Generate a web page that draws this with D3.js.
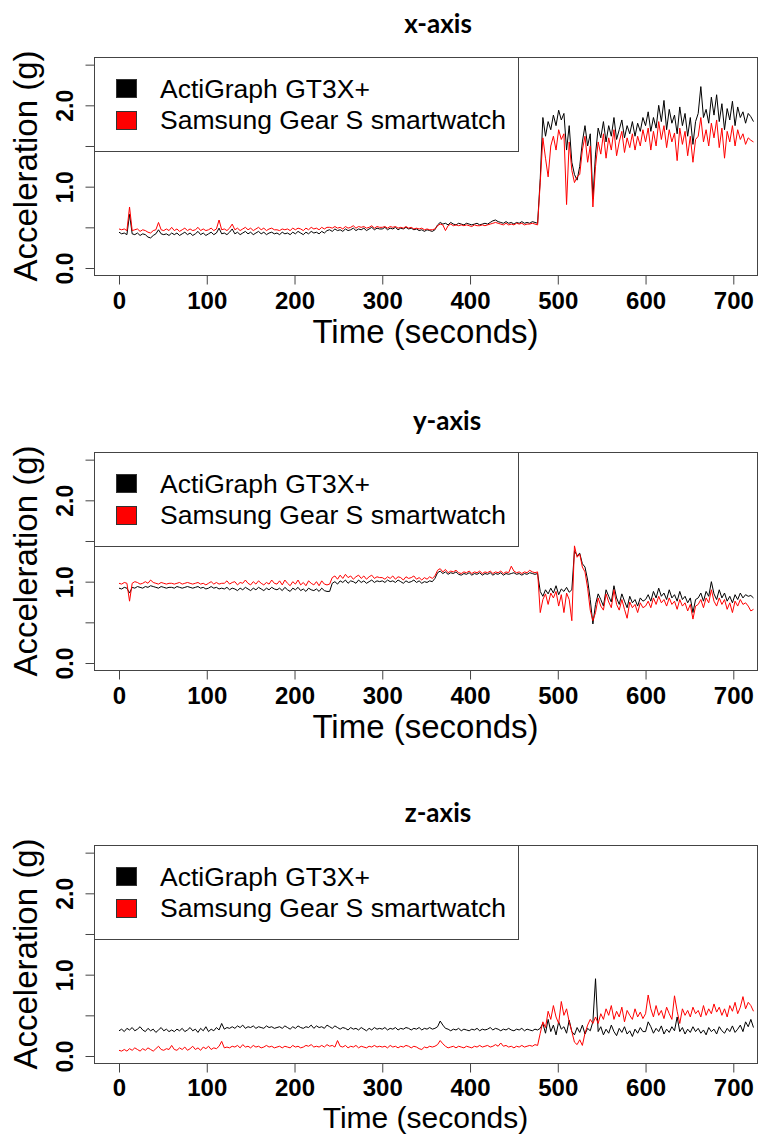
<!DOCTYPE html>
<html>
<head>
<meta charset="utf-8">
<script src="https://cdn.jsdelivr.net/npm/d3@7"></script>
<style>
  body { margin: 0; background: #fff; }
  svg { display: block; }
</style>
</head>
<body>
<div id="chart"></div>
<script>
// DATA
// sample times (seconds), one reading every 3 s
var times = d3.range(0, 724, 3);

var panelTitles = ["x-axis", "y-axis", "z-axis"];
var seriesNames = ["ActiGraph GT3X+", "Samsung Gear S smartwatch"];
var seriesColors = ["#000000", "#ff0000"];
var xTicks = [0, 100, 200, 300, 400, 500, 600, 700];
var yTicks = [0, 0.5, 1, 1.5, 2, 2.5];
var yTickLabels = {0: "0.0", 1: "1.0", 2: "2.0"};

// x-axis acceleration
var xActi = [
  0.44,0.42,0.43,0.41,0.66,0.42,0.41,0.43,0.40,0.42,0.41,0.38,0.37,0.40,0.42,0.47,0.42,0.41,0.42,0.40,
  0.43,0.41,0.43,0.40,0.42,0.44,0.41,0.43,0.40,0.42,0.45,0.41,0.43,0.40,0.42,0.44,0.41,0.43,0.49,0.42,
  0.43,0.41,0.44,0.48,0.42,0.44,0.41,0.43,0.45,0.42,0.44,0.41,0.43,0.45,0.42,0.44,0.41,0.43,0.44,0.42,
  0.43,0.41,0.44,0.42,0.43,0.41,0.44,0.42,0.45,0.43,0.41,0.44,0.42,0.45,0.43,0.44,0.42,0.45,0.43,0.46,
  0.47,0.45,0.48,0.46,0.47,0.45,0.48,0.46,0.47,0.49,0.46,0.48,0.47,0.49,0.46,0.48,0.50,0.47,0.49,0.48,
  0.48,0.50,0.47,0.49,0.48,0.50,0.47,0.49,0.48,0.50,0.48,0.49,0.47,0.48,0.46,0.47,0.45,0.47,0.46,0.45,
  0.47,0.53,0.56,0.54,0.55,0.53,0.56,0.54,0.53,0.55,0.54,0.53,0.55,0.54,0.53,0.54,0.55,0.53,0.54,0.55,
  0.54,0.56,0.58,0.59,0.57,0.56,0.55,0.57,0.55,0.56,0.54,0.56,0.55,0.57,0.55,0.56,0.55,0.57,0.56,0.55,
  1.10,1.85,1.62,1.80,1.70,1.88,1.75,1.94,1.82,1.90,1.45,1.75,1.30,1.15,1.08,1.25,1.55,1.75,1.50,1.65,
  0.85,1.40,1.72,1.60,1.80,1.55,1.75,1.62,1.85,1.58,1.70,1.82,1.60,1.75,1.65,1.80,1.62,1.78,1.68,1.85,
  1.75,1.92,1.68,1.85,1.72,2.00,1.80,2.06,1.70,1.95,1.78,1.88,1.65,1.98,1.75,1.90,1.62,1.85,1.52,1.80,
  1.90,2.23,1.85,1.95,1.78,2.10,1.88,2.13,1.80,2.02,1.70,1.96,1.82,2.05,1.75,1.98,1.85,1.92,1.78,1.90,
  1.86,1.80
];
var xGear = [
  0.48,0.47,0.48,0.46,0.75,0.46,0.47,0.48,0.45,0.47,0.46,0.44,0.43,0.46,0.47,0.56,0.47,0.46,0.48,0.46,
  0.50,0.46,0.48,0.45,0.47,0.49,0.46,0.48,0.46,0.47,0.50,0.46,0.48,0.46,0.47,0.49,0.46,0.48,0.59,0.47,
  0.48,0.46,0.49,0.54,0.47,0.49,0.46,0.48,0.50,0.47,0.49,0.46,0.48,0.50,0.47,0.49,0.46,0.48,0.49,0.47,
  0.47,0.46,0.48,0.47,0.48,0.46,0.49,0.47,0.49,0.48,0.46,0.49,0.47,0.50,0.48,0.49,0.47,0.50,0.48,0.50,
  0.50,0.49,0.51,0.49,0.50,0.48,0.51,0.49,0.50,0.52,0.49,0.51,0.50,0.51,0.49,0.50,0.52,0.49,0.51,0.50,
  0.50,0.51,0.49,0.51,0.50,0.51,0.49,0.50,0.49,0.51,0.49,0.50,0.48,0.49,0.48,0.49,0.47,0.48,0.47,0.47,
  0.48,0.52,0.54,0.53,0.46,0.52,0.54,0.52,0.53,0.52,0.53,0.52,0.53,0.52,0.51,0.53,0.52,0.52,0.53,0.52,
  0.53,0.54,0.55,0.56,0.55,0.54,0.53,0.55,0.53,0.54,0.53,0.55,0.54,0.55,0.53,0.54,0.54,0.55,0.54,0.53,
  1.05,1.60,1.35,1.12,1.50,1.62,1.45,1.70,1.58,1.65,0.78,1.55,1.20,1.05,1.12,1.15,1.45,1.62,1.30,1.50,
  0.75,1.25,1.55,1.40,1.65,1.35,1.60,1.45,1.70,1.38,1.55,1.68,1.42,1.60,1.48,1.65,1.45,1.62,1.50,1.70,
  1.55,1.72,1.45,1.68,1.50,1.80,1.58,1.75,1.48,1.70,1.55,1.66,1.32,1.72,1.52,1.68,1.38,1.62,1.30,1.58,
  1.62,1.85,1.55,1.70,1.50,1.78,1.60,1.82,1.48,1.72,1.35,1.68,1.55,1.75,1.50,1.70,1.58,1.65,1.52,1.60,
  1.57,1.55
];

// y-axis acceleration
var yActi = [
  0.92,0.91,0.93,0.92,0.86,0.93,0.92,0.94,0.93,0.92,0.94,0.93,0.95,0.94,0.93,0.92,0.94,0.93,0.92,0.93,
  0.93,0.92,0.94,0.93,0.92,0.93,0.94,0.93,0.92,0.93,0.94,0.92,0.93,0.91,0.92,0.94,0.92,0.93,0.91,0.92,
  0.91,0.93,0.90,0.92,0.91,0.89,0.92,0.90,0.93,0.91,0.89,0.92,0.90,0.93,0.91,0.89,0.92,0.90,0.93,0.91,
  0.90,0.92,0.89,0.93,0.90,0.88,0.92,0.90,0.93,0.89,0.91,0.88,0.92,0.90,0.89,0.91,0.88,0.92,0.89,0.88,
  0.88,0.98,1.00,0.97,1.01,0.99,1.02,0.98,1.01,1.00,0.98,1.02,0.99,1.01,0.98,1.00,1.02,0.99,1.01,1.00,
  1.01,0.99,1.02,1.00,1.01,0.99,1.02,1.00,0.98,1.01,0.99,1.00,1.02,0.99,1.01,0.98,1.00,0.99,1.01,1.00,
  1.04,1.11,1.13,1.10,1.12,1.09,1.11,1.10,1.12,1.09,1.08,1.10,1.09,1.11,1.08,1.10,1.09,1.11,1.08,1.10,
  1.09,1.11,1.08,1.10,1.09,1.11,1.08,1.10,1.09,1.10,1.11,1.09,1.10,1.08,1.10,1.09,1.11,1.10,1.09,1.10,
  0.88,0.82,0.90,0.85,0.92,0.86,0.95,0.84,0.91,0.88,0.93,0.87,0.90,1.38,1.32,1.35,1.22,1.18,1.02,0.78,
  0.48,0.72,0.85,0.78,0.70,0.90,0.82,0.75,0.95,0.80,0.72,0.85,0.76,0.68,0.82,0.74,0.78,0.70,0.80,0.76,
  0.78,0.84,0.76,0.88,0.80,0.92,0.82,0.86,0.78,0.90,0.80,0.84,0.76,0.88,0.78,0.82,0.74,0.80,0.62,0.78,
  0.80,0.86,0.76,0.88,0.82,1.00,0.85,0.78,0.90,0.80,0.86,0.76,0.82,0.74,0.84,0.78,0.86,0.80,0.84,0.82,
  0.83,0.80
];
var yGear = [
  0.98,0.97,0.99,0.98,0.76,0.98,1.00,0.99,0.97,0.98,1.00,0.98,1.02,0.99,0.98,0.97,0.99,0.98,0.97,0.98,
  0.98,0.97,0.98,0.99,0.97,0.98,0.99,0.98,0.97,0.98,0.99,0.97,0.98,0.96,0.98,1.00,0.97,0.99,0.97,0.98,
  0.98,1.01,0.97,0.99,1.00,0.96,0.99,0.98,1.02,0.98,0.96,1.00,0.97,1.01,0.98,0.96,0.99,0.97,1.02,0.98,
  0.97,1.01,0.96,1.02,0.98,0.95,1.00,0.97,1.02,0.96,0.99,0.95,1.01,0.98,0.96,1.00,0.95,1.01,0.97,0.96,
  0.97,1.05,1.07,1.03,1.08,1.04,1.09,1.05,1.07,1.03,1.06,1.08,1.04,1.07,1.03,1.06,1.08,1.04,1.06,1.05,
  1.05,1.03,1.06,1.04,1.07,1.03,1.06,1.05,1.02,1.06,1.04,1.05,1.07,1.03,1.05,1.02,1.05,1.03,1.06,1.04,
  1.07,1.14,1.16,1.12,1.15,1.11,1.13,1.12,1.14,1.11,1.10,1.12,1.11,1.13,1.10,1.12,1.11,1.13,1.10,1.12,
  1.11,1.13,1.10,1.12,1.11,1.13,1.10,1.12,1.11,1.19,1.13,1.11,1.12,1.10,1.12,1.11,1.14,1.12,1.11,1.12,
  0.62,0.78,0.85,0.72,0.86,0.80,0.88,0.70,0.84,0.62,0.86,0.78,0.52,1.44,1.30,1.34,1.18,1.12,0.92,0.65,
  0.52,0.62,0.80,0.70,0.65,0.85,0.75,0.68,0.90,0.72,0.65,0.78,0.66,0.55,0.75,0.68,0.72,0.62,0.74,0.68,
  0.70,0.76,0.68,0.80,0.72,0.82,0.74,0.78,0.70,0.80,0.72,0.76,0.66,0.78,0.70,0.74,0.64,0.72,0.54,0.70,
  0.72,0.78,0.68,0.80,0.74,0.90,0.76,0.70,0.80,0.72,0.78,0.66,0.74,0.62,0.76,0.70,0.78,0.72,0.74,0.70,
  0.64,0.66
];

// z-axis acceleration
var zActi = [
  0.31,0.33,0.30,0.34,0.32,0.35,0.31,0.33,0.36,0.32,0.30,0.34,0.31,0.33,0.29,0.32,0.35,0.31,0.33,0.30,
  0.32,0.30,0.33,0.31,0.34,0.30,0.32,0.35,0.31,0.33,0.29,0.34,0.31,0.36,0.30,0.33,0.31,0.35,0.32,0.40,
  0.33,0.35,0.34,0.36,0.34,0.37,0.35,0.38,0.34,0.36,0.35,0.37,0.34,0.36,0.35,0.34,0.37,0.35,0.36,0.34,
  0.35,0.36,0.34,0.37,0.35,0.33,0.36,0.34,0.37,0.35,0.34,0.36,0.35,0.38,0.34,0.37,0.35,0.36,0.34,0.38,
  0.36,0.34,0.37,0.35,0.33,0.35,0.34,0.32,0.35,0.33,0.34,0.32,0.35,0.33,0.31,0.34,0.32,0.35,0.33,0.34,
  0.33,0.35,0.32,0.34,0.33,0.35,0.32,0.34,0.33,0.35,0.34,0.32,0.34,0.33,0.35,0.32,0.34,0.33,0.35,0.33,
  0.34,0.36,0.43,0.38,0.34,0.33,0.31,0.33,0.32,0.34,0.31,0.33,0.32,0.31,0.33,0.32,0.34,0.31,0.33,0.32,
  0.33,0.35,0.32,0.34,0.33,0.31,0.33,0.32,0.34,0.32,0.31,0.33,0.32,0.34,0.31,0.33,0.32,0.31,0.33,0.32,
  0.34,0.40,0.28,0.45,0.30,0.38,0.26,0.42,0.33,0.36,0.28,0.44,0.30,0.26,0.35,0.29,0.38,0.27,0.34,0.31,
  0.42,0.95,0.30,0.36,0.26,0.33,0.28,0.38,0.30,0.25,0.34,0.29,0.36,0.27,0.31,0.24,0.33,0.28,0.35,0.30,
  0.30,0.42,0.36,0.28,0.34,0.30,0.37,0.27,0.33,0.29,0.36,0.31,0.48,0.30,0.35,0.27,0.33,0.29,0.36,0.30,
  0.34,0.28,0.32,0.26,0.35,0.30,0.33,0.27,0.36,0.31,0.28,0.34,0.30,0.37,0.29,0.33,0.38,0.30,0.42,0.36,
  0.45,0.35
];
var zGear = [
  0.07,0.06,0.08,0.06,0.09,0.07,0.10,0.08,0.06,0.09,0.07,0.10,0.08,0.06,0.09,0.12,0.08,0.07,0.09,0.08,
  0.13,0.08,0.07,0.10,0.08,0.11,0.07,0.09,0.12,0.08,0.10,0.07,0.11,0.09,0.12,0.08,0.10,0.09,0.12,0.18,
  0.10,0.11,0.10,0.12,0.11,0.13,0.10,0.14,0.11,0.12,0.10,0.13,0.11,0.12,0.10,0.11,0.13,0.11,0.12,0.10,
  0.11,0.12,0.10,0.12,0.11,0.10,0.13,0.11,0.12,0.10,0.11,0.13,0.12,0.14,0.11,0.12,0.11,0.13,0.11,0.14,
  0.12,0.13,0.11,0.19,0.12,0.11,0.13,0.10,0.12,0.11,0.13,0.10,0.12,0.11,0.10,0.12,0.11,0.13,0.11,0.12,
  0.11,0.12,0.10,0.13,0.11,0.12,0.10,0.12,0.11,0.13,0.12,0.10,0.12,0.11,0.09,0.08,0.11,0.10,0.12,0.11,
  0.12,0.14,0.19,0.15,0.12,0.10,0.11,0.12,0.10,0.12,0.11,0.10,0.12,0.11,0.10,0.12,0.11,0.13,0.11,0.12,
  0.13,0.11,0.12,0.14,0.12,0.16,0.12,0.13,0.11,0.12,0.10,0.12,0.11,0.13,0.11,0.12,0.13,0.12,0.14,0.13,
  0.28,0.42,0.35,0.55,0.45,0.62,0.48,0.40,0.67,0.50,0.58,0.42,0.30,0.17,0.14,0.20,0.13,0.28,0.38,0.45,
  0.40,0.48,0.40,0.52,0.45,0.58,0.50,0.62,0.45,0.55,0.48,0.60,0.42,0.56,0.50,0.45,0.58,0.48,0.54,0.46,
  0.52,0.75,0.58,0.48,0.62,0.50,0.56,0.46,0.60,0.52,0.45,0.74,0.55,0.40,0.58,0.50,0.56,0.48,0.60,0.52,
  0.56,0.48,0.62,0.50,0.58,0.52,0.64,0.54,0.60,0.50,0.58,0.48,0.62,0.55,0.66,0.52,0.60,0.73,0.58,0.66,
  0.62,0.55
];

var panelSeries = [[xActi, xGear], [yActi, yGear], [zActi, zGear]];

// LAYOUT
var svgWidth = 760;
var svgHeight = 1135;
var boxLeft = 94;
var boxRight = 757;
var boxHeight = 218;
var boxTops = [57, 452, 845];
// title position for each panel (centre x, baseline offset above box)
var titleLayout = [
  {x: 438, dy: -24},
  {x: 447, dy: -22},
  {x: 438, dy: -23}
];
// x tick labels and "Time (seconds)" below each box
// (the last panel is squeezed a little so its label stays on the page)
var xTickDy = [33, 33, 32];
var xLabelDy = [68, 68, 65.3];
var xLabelSize = [33, 33, 30];
var mainFont = "'Liberation Sans', Arial, sans-serif";

var svg = d3.select("#chart")
  .append("svg")
  .attr("width", svgWidth)
  .attr("height", svgHeight);

// x scale is the same for every panel
var xScale = d3.scaleLinear()
  .domain([-28.5, 727])
  .range([boxLeft, boxRight]);

panelSeries.forEach(function (series, p) {
  var top = boxTops[p];
  var bottom = top + boxHeight;

  var yScale = d3.scaleLinear()
    .domain([-0.086, 2.594])
    .range([bottom, top]);

  var g = svg.append("g");

  // clip the lines to the plot box
  g.append("clipPath")
    .attr("id", "clip" + p)
    .append("rect")
    .attr("x", boxLeft)
    .attr("y", top)
    .attr("width", boxRight - boxLeft)
    .attr("height", boxHeight);

  var line = d3.line()
    .x(function (d, i) { return xScale(times[i]); })
    .y(function (d) { return yScale(d); });

  series.forEach(function (vals, s) {
    g.append("path")
      .datum(vals.slice(0, times.length))
      .attr("clip-path", "url(#clip" + p + ")")
      .attr("fill", "none")
      .attr("stroke", seriesColors[s])
      .attr("stroke-width", 1)
      .attr("stroke-linejoin", "round")
      .attr("d", line);
  });

  // bottom axis
  var bottomAxis = d3.axisBottom(xScale)
    .tickValues(xTicks)
    .tickSize(9)
    .tickPadding(6)
    .tickFormat(d3.format("d"));
  var xAxis = g.append("g")
    .attr("transform", "translate(0," + (bottom + 0.5) + ")")
    .call(bottomAxis);
  xAxis.select(".domain").remove();
  xAxis.selectAll(".tick line").attr("stroke", "#444");
  xAxis.selectAll(".tick text")
    .attr("fill", "#000")
    .attr("dy", null)
    .attr("y", xTickDy[p])
    .style("font-family", mainFont)
    .style("font-weight", "bold")
    .style("font-size", "24px");

  // left axis, labels turned to run along the axis
  var leftAxis = d3.axisLeft(yScale)
    .tickValues(yTicks)
    .tickSize(9)
    .tickFormat(function (d) { return yTickLabels[d] || ""; });
  var yAxis = g.append("g")
    .attr("transform", "translate(" + (boxLeft + 0.5) + ",0)")
    .call(leftAxis);
  yAxis.select(".domain").remove();
  yAxis.selectAll(".tick line").attr("stroke", "#444");
  yAxis.selectAll(".tick text")
    .attr("fill", "#000")
    .attr("x", null)
    .attr("dy", null)
    .attr("text-anchor", "middle")
    .attr("transform", "translate(" + (72 - boxLeft) + ",0) rotate(-90)")
    .style("font-family", mainFont)
    .style("font-weight", "bold")
    .style("font-size", "23px");

  // plot frame
  g.append("rect")
    .attr("x", boxLeft + 0.5)
    .attr("y", top + 0.5)
    .attr("width", boxRight - boxLeft)
    .attr("height", boxHeight)
    .attr("fill", "none")
    .attr("stroke", "#444")
    .attr("stroke-width", 1);

  // legend
  var legend = g.append("g");
  legend.append("rect")
    .attr("x", boxLeft + 0.5)
    .attr("y", top + 0.5)
    .attr("width", 518 - boxLeft)
    .attr("height", 94)
    .attr("fill", "#fff")
    .attr("stroke", "#444");
  seriesNames.forEach(function (name, s) {
    legend.append("rect")
      .attr("x", 116.5)
      .attr("y", top + 22.5 + s * 32)
      .attr("width", 20)
      .attr("height", 18)
      .attr("fill", seriesColors[s])
      .attr("stroke", "#333");
    legend.append("text")
      .attr("x", 160)
      .attr("y", top + 41 + s * 31)
      .style("font-family", mainFont)
      .style("font-size", "26.5px")
      .attr("fill", "#000")
      .text(name);
  });

  // axis titles
  g.append("text")
    .attr("x", (boxLeft + boxRight) / 2)
    .attr("y", bottom + xLabelDy[p])
    .attr("text-anchor", "middle")
    .style("font-family", mainFont)
    .style("font-size", xLabelSize[p] + "px")
    .attr("fill", "#000")
    .text("Time (seconds)");

  g.append("text")
    .attr("transform", "translate(37," + ((top + bottom) / 2) + ") rotate(-90)")
    .attr("text-anchor", "middle")
    .style("font-family", mainFont)
    .style("font-size", "33px")
    .attr("fill", "#000")
    .text("Acceleration (g)");

  // panel title
  g.append("text")
    .attr("x", titleLayout[p].x)
    .attr("y", top + titleLayout[p].dy)
    .attr("text-anchor", "middle")
    .style("font-family", "Lato, 'Open Sans', sans-serif")
    .style("font-weight", "bold")
    .style("font-size", "26px")
    .attr("fill", "#000")
    .text(panelTitles[p]);
});
</script>
</body>
</html>
